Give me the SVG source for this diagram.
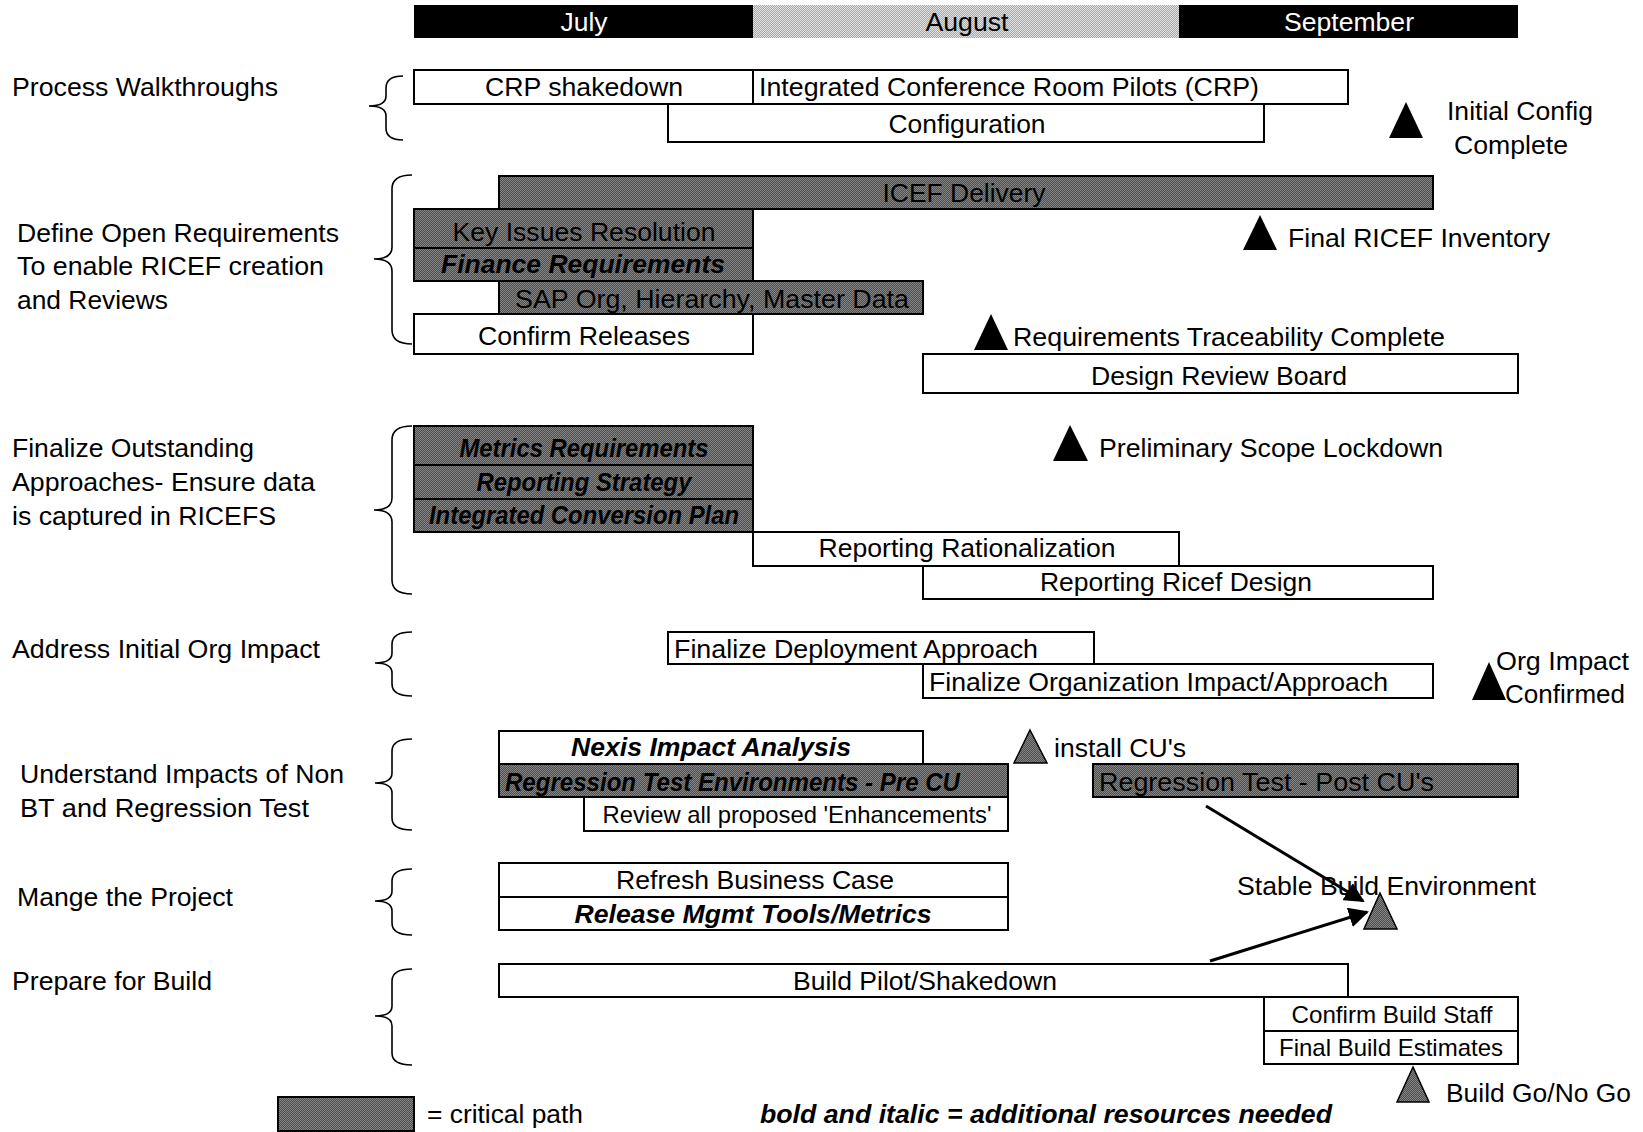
<svg xmlns="http://www.w3.org/2000/svg" width="1643" height="1132" viewBox="0 0 1643 1132">
<defs>
<pattern id="dk" width="2" height="2" patternUnits="userSpaceOnUse"><rect width="2" height="2" fill="#4e4e4e"/><rect width="1" height="1" fill="#858585"/><rect x="1" y="1" width="1" height="1" fill="#858585"/></pattern>
<pattern id="lt" width="2" height="2" patternUnits="userSpaceOnUse"><rect width="2" height="2" fill="#a8a8a8"/><rect width="1" height="1" fill="#e2e2e2"/><rect x="1" y="1" width="1" height="1" fill="#e2e2e2"/></pattern>
<marker id="ah" viewBox="0 0 10 10" refX="9" refY="5" markerWidth="7" markerHeight="7" markerUnits="userSpaceOnUse" orient="auto"><path d="M0,0 L10,5 L0,10 z" fill="#000"/></marker>
<style>
text{font-family:"Liberation Sans",Arial,sans-serif;font-size:26px;fill:#000}
.c{text-anchor:middle}
.bi{font-weight:bold;font-style:italic}
.s{font-size:24px}
.w{fill:#fff}
.b{fill:#fff;stroke:#000;stroke-width:2}
.d{fill:url(#dk);stroke:#000;stroke-width:2}
.tb{fill:#000}
.tg{fill:url(#dk);stroke:#000;stroke-width:1.5}
.br{fill:none;stroke:#000;stroke-width:1.6}
.cn{stroke:#000;stroke-width:3;fill:none;marker-end:url(#ah)}
</style>
<marker id="ahb" viewBox="0 0 10 10" refX="9" refY="5" markerWidth="20" markerHeight="20" markerUnits="userSpaceOnUse" orient="auto"><path d="M0,0 L10,5 L0,10 z" fill="#000"/></marker>
</defs>
<rect width="1643" height="1132" fill="#fff"/>

<g id="months">
<rect x="414" y="5" width="339" height="33" fill="#000"/>
<rect x="753" y="5" width="426" height="33" fill="url(#lt)"/>
<rect x="1179" y="5" width="339" height="33" fill="#000"/>
<text class="c w" x="584" y="31" textLength="47" lengthAdjust="spacingAndGlyphs">July</text>
<text class="c" x="967" y="31" textLength="83" lengthAdjust="spacingAndGlyphs">August</text>
<text class="c w" x="1349" y="31" textLength="130" lengthAdjust="spacingAndGlyphs">September</text>
</g>

<g id="labels">
<text x="12" y="96" textLength="266" lengthAdjust="spacingAndGlyphs">Process Walkthroughs</text>
<text x="17" y="242" textLength="322" lengthAdjust="spacingAndGlyphs">Define Open Requirements</text>
<text x="17" y="275" textLength="307" lengthAdjust="spacingAndGlyphs">To enable RICEF creation</text>
<text x="17" y="309" textLength="151" lengthAdjust="spacingAndGlyphs">and Reviews</text>
<text x="12" y="457" textLength="242" lengthAdjust="spacingAndGlyphs">Finalize Outstanding</text>
<text x="12" y="491" textLength="303" lengthAdjust="spacingAndGlyphs">Approaches- Ensure data</text>
<text x="12" y="525" textLength="264" lengthAdjust="spacingAndGlyphs">is captured in RICEFS</text>
<text x="12" y="658" textLength="308" lengthAdjust="spacingAndGlyphs">Address Initial Org Impact</text>
<text x="20" y="783" textLength="324" lengthAdjust="spacingAndGlyphs">Understand Impacts of Non</text>
<text x="20" y="817" textLength="289" lengthAdjust="spacingAndGlyphs">BT and Regression Test</text>
<text x="17" y="906" textLength="216" lengthAdjust="spacingAndGlyphs">Mange the Project</text>
<text x="12" y="990" textLength="200" lengthAdjust="spacingAndGlyphs">Prepare for Build</text>
</g>

<g id="braces">
<path class="br" d="M403,76 Q386,76 386,88 L386,96 Q386,106 369,106 Q386,106 386,116 L386,128 Q386,140 403,140"/>
<path class="br" d="M412,175 Q392,175 392,189 L392,247 Q392,259 374,259 Q392,259 392,271 L392,330 Q392,344 412,344"/>
<path class="br" d="M412,426 Q392,426 392,440 L392,498 Q392,510 374,510 Q392,510 392,522 L392,580 Q392,594 412,594"/>
<path class="br" d="M412,632 Q392,632 392,644 L392,653 Q392,663 375,663 Q392,663 392,673 L392,684 Q392,696 412,696"/>
<path class="br" d="M412,739 Q392,739 392,751 L392,773 Q392,783 375,783 Q392,783 392,793 L392,818 Q392,830 412,830"/>
<path class="br" d="M412,869 Q392,869 392,881 L392,891 Q392,901 375,901 Q392,901 392,911 L392,923 Q392,935 412,935"/>
<path class="br" d="M412,969 Q392,969 392,981 L392,1006 Q392,1016 375,1016 Q392,1016 392,1026 L392,1053 Q392,1065 412,1065"/>
</g>

<g id="n-crp-shakedown"><rect class="b" x="414" y="70" width="339" height="34"/><text class="c" x="584" y="96" textLength="198" lengthAdjust="spacingAndGlyphs">CRP shakedown</text></g>
<g id="n-icrp"><rect class="b" x="753" y="70" width="595" height="34"/><text x="759" y="96" textLength="500" lengthAdjust="spacingAndGlyphs">Integrated Conference Room Pilots (CRP)</text></g>
<g id="n-config"><rect class="b" x="668" y="104" width="596" height="38"/><text class="c" x="967" y="133" textLength="157" lengthAdjust="spacingAndGlyphs">Configuration</text></g>
<g id="m-initial-config"><path class="tb" d="M1406,102 L1423,138 L1389,138 z"/><text x="1447" y="120" textLength="146" lengthAdjust="spacingAndGlyphs">Initial Config</text><text x="1454" y="154" textLength="114" lengthAdjust="spacingAndGlyphs">Complete</text></g>

<g id="n-icef"><rect class="d" x="499" y="176" width="934" height="33"/><text class="c" x="964" y="202" textLength="163" lengthAdjust="spacingAndGlyphs">ICEF Delivery</text></g>
<g id="n-key"><rect class="d" x="414" y="209" width="339" height="39"/><text class="c" x="584" y="241" textLength="263" lengthAdjust="spacingAndGlyphs">Key Issues Resolution</text></g>
<g id="n-finance"><rect class="d" x="414" y="248" width="339" height="33"/><text class="c bi" x="583" y="273" textLength="284" lengthAdjust="spacingAndGlyphs">Finance Requirements</text></g>
<g id="n-sap"><rect class="d" x="499" y="281" width="424" height="33"/><text class="c" x="712" y="308" textLength="394" lengthAdjust="spacingAndGlyphs">SAP Org, Hierarchy, Master Data</text></g>
<g id="n-confirm-rel"><rect class="b" x="414" y="314" width="339" height="40"/><text class="c" x="584" y="345" textLength="212" lengthAdjust="spacingAndGlyphs">Confirm Releases</text></g>
<g id="m-final-ricef"><path class="tb" d="M1260,215 L1277,250 L1243,250 z"/><text x="1288" y="247" textLength="262" lengthAdjust="spacingAndGlyphs">Final RICEF Inventory</text></g>
<g id="m-req-trace"><path class="tb" d="M991,314 L1008,350 L974,350 z"/><text x="1013" y="346" textLength="432" lengthAdjust="spacingAndGlyphs">Requirements Traceability Complete</text></g>
<g id="n-drb"><rect class="b" x="923" y="354" width="595" height="39"/><text class="c" x="1219" y="385" textLength="256" lengthAdjust="spacingAndGlyphs">Design Review Board</text></g>

<g id="n-metrics"><rect class="d" x="414" y="426" width="339" height="39"/><text class="c bi" x="584" y="457" textLength="249" lengthAdjust="spacingAndGlyphs">Metrics Requirements</text></g>
<g id="n-rep-strategy"><rect class="d" x="414" y="465" width="339" height="34"/><text class="c bi" x="584" y="491" textLength="215" lengthAdjust="spacingAndGlyphs">Reporting Strategy</text></g>
<g id="n-icp"><rect class="d" x="414" y="499" width="339" height="33"/><text class="c bi" x="584" y="524" textLength="310" lengthAdjust="spacingAndGlyphs">Integrated Conversion Plan</text></g>
<g id="m-prelim"><path class="tb" d="M1070,425 L1088,461 L1053,461 z"/><text x="1099" y="457" textLength="344" lengthAdjust="spacingAndGlyphs">Preliminary Scope Lockdown</text></g>
<g id="n-rep-rat"><rect class="b" x="753" y="532" width="426" height="34"/><text class="c" x="967" y="557" textLength="297" lengthAdjust="spacingAndGlyphs">Reporting Rationalization</text></g>
<g id="n-rep-ricef"><rect class="b" x="923" y="566" width="510" height="33"/><text class="c" x="1176" y="591" textLength="272" lengthAdjust="spacingAndGlyphs">Reporting Ricef Design</text></g>

<g id="n-fda"><rect class="b" x="668" y="632" width="426" height="32"/><text x="674" y="658" textLength="364" lengthAdjust="spacingAndGlyphs">Finalize Deployment Approach</text></g>
<g id="n-foia"><rect class="b" x="923" y="664" width="510" height="34"/><text x="929" y="691" textLength="459" lengthAdjust="spacingAndGlyphs">Finalize Organization Impact/Approach</text></g>
<g id="m-org-impact"><path class="tb" d="M1489,662 L1506,700 L1472,700 z"/><text x="1496" y="670" textLength="133" lengthAdjust="spacingAndGlyphs">Org Impact</text><text x="1505" y="703" textLength="120" lengthAdjust="spacingAndGlyphs">Confirmed</text></g>

<g id="n-nexis"><rect class="b" x="499" y="731" width="424" height="33"/><text class="c bi" x="711" y="756" textLength="280" lengthAdjust="spacingAndGlyphs">Nexis Impact Analysis</text></g>
<g id="n-rte"><rect class="d" x="499" y="764" width="509" height="33"/><text class="bi" x="505" y="791" textLength="455" lengthAdjust="spacingAndGlyphs">Regression Test Environments - Pre CU</text></g>
<g id="n-review"><rect class="b" x="584" y="797" width="424" height="34"/><text class="c s" x="797" y="823" textLength="389" lengthAdjust="spacingAndGlyphs">Review all proposed 'Enhancements'</text></g>
<g id="m-install"><path class="tg" d="M1030,730 L1047,763 L1014,763 z"/><text x="1054" y="757" textLength="132" lengthAdjust="spacingAndGlyphs">install CU's</text></g>
<g id="n-rtpc"><rect class="d" x="1093" y="764" width="425" height="33"/><text x="1099" y="791" textLength="335" lengthAdjust="spacingAndGlyphs">Regression Test - Post CU's</text></g>

<g id="n-refresh"><rect class="b" x="499" y="863" width="509" height="34"/><text class="c" x="755" y="889" textLength="278" lengthAdjust="spacingAndGlyphs">Refresh Business Case</text></g>
<g id="n-release"><rect class="b" x="499" y="897" width="509" height="33"/><text class="c bi" x="753" y="923" textLength="357" lengthAdjust="spacingAndGlyphs">Release Mgmt Tools/Metrics</text></g>
<g id="m-stable"><path class="tg" d="M1380,893 L1397,929 L1364,929 z"/><text x="1237" y="895" textLength="299" lengthAdjust="spacingAndGlyphs">Stable Build Environment</text></g>

<g id="n-build-pilot"><rect class="b" x="499" y="964" width="849" height="33"/><text class="c" x="925" y="990" textLength="264" lengthAdjust="spacingAndGlyphs">Build Pilot/Shakedown</text></g>
<g id="n-cbs"><rect class="b" x="1264" y="997" width="254" height="34"/><text class="c s" x="1392" y="1023" textLength="201" lengthAdjust="spacingAndGlyphs">Confirm Build Staff</text></g>
<g id="n-fbe"><rect class="b" x="1264" y="1031" width="254" height="33"/><text class="c s" x="1391" y="1056" textLength="224" lengthAdjust="spacingAndGlyphs">Final Build Estimates</text></g>
<g id="m-gonogo"><path class="tg" d="M1413,1067 L1429,1102 L1397,1102 z"/><text x="1446" y="1102" textLength="185" lengthAdjust="spacingAndGlyphs">Build Go/No Go</text></g>

<g id="connectors">
<line class="cn" x1="1206" y1="806" x2="1363" y2="901" style="marker-end:url(#ahb)"/>
<line class="cn" x1="1210" y1="961" x2="1367" y2="912" style="marker-end:url(#ahb)"/>
</g>

<g id="legend">
<rect class="d" x="278" y="1097" width="136" height="34"/>
<text x="427" y="1123" textLength="156" lengthAdjust="spacingAndGlyphs">= critical path</text>
<text class="bi" x="760" y="1123" textLength="572" lengthAdjust="spacingAndGlyphs">bold and italic = additional resources needed</text>
</g>
</svg>
